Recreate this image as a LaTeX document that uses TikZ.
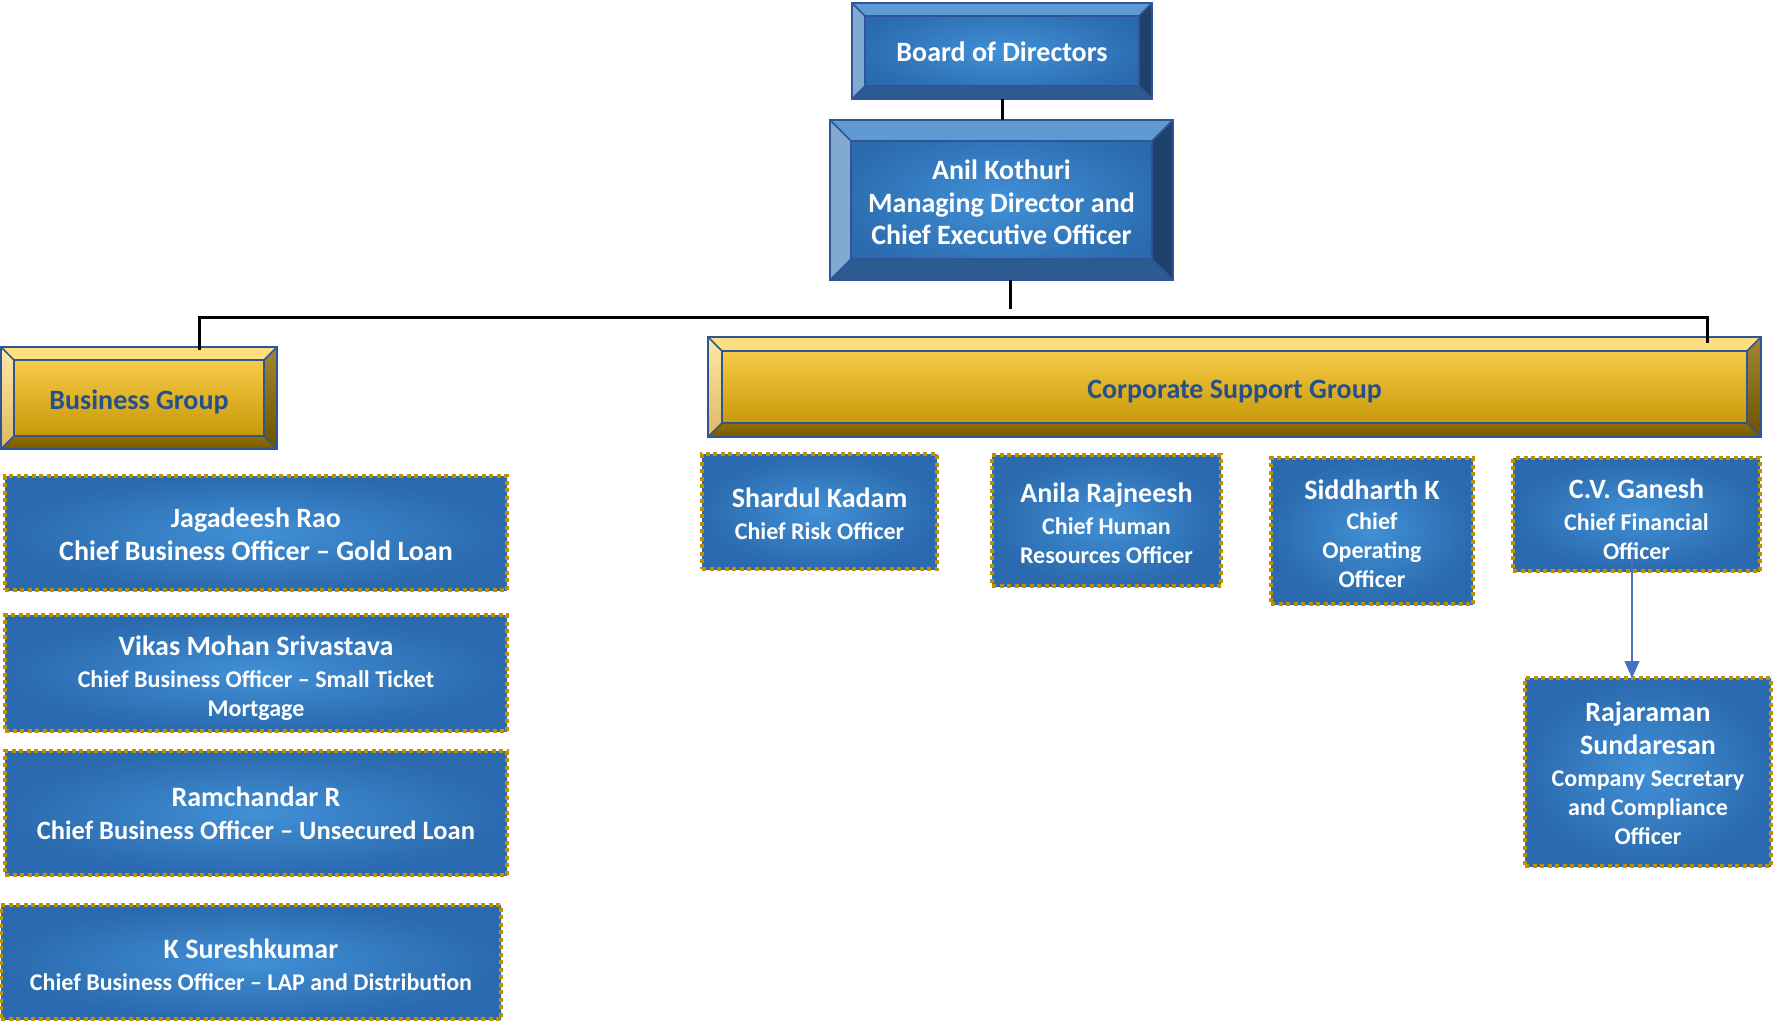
\documentclass[tikz,border=0pt]{standalone}
\usepackage{fontspec}
\setmainfont{Carlito}
\usetikzlibrary{arrows.meta}
\definecolor{blin}{HTML}{4190D6}
\definecolor{blout}{HTML}{2B6AAE}
\definecolor{dashgold}{HTML}{BF9000}
\definecolor{outl}{HTML}{2F5597}
\definecolor{bbtop}{HTML}{5F9AD3}
\definecolor{bbleft}{HTML}{82A9D1}
\definecolor{bbright}{HTML}{1E426C}
\definecolor{bbbot}{HTML}{2B5B91}
\definecolor{gtop}{HTML}{FFD450}
\definecolor{gmid}{HTML}{FFC000}
\definecolor{gbot}{HTML}{BE8F00}
\definecolor{gbtop}{HTML}{FFDE7E}
\definecolor{gbleftA}{HTML}{FFE8A6}
\definecolor{gbleftB}{HTML}{DDB960}
\definecolor{gbrightA}{HTML}{A48630}
\definecolor{gbrightB}{HTML}{6C5300}
\definecolor{gbbotA}{HTML}{937000}
\definecolor{gbbotB}{HTML}{765A00}
\definecolor{gtext}{HTML}{25508A}
\definecolor{arrowblue}{HTML}{4472C4}
\newcommand\nmf{\fontsize{28}{33}\selectfont}
\newcommand\lift[1]{\rule{0pt}{#1pt}}
\newcommand\bevelfaces[6]{%
  \path[#3] (#1.north west) -- (#1.north east) -- ([shift={(-#2,#2)}]#1.north east) -- ([shift={(#2,#2)}]#1.north west) -- cycle;
  \path[#4] (#1.north west) -- ([shift={(#2,#2)}]#1.north west) -- ([shift={(#2,-#2)}]#1.south west) -- (#1.south west) -- cycle;
  \path[#5] (#1.north east) -- ([shift={(-#2,#2)}]#1.north east) -- ([shift={(-#2,-#2)}]#1.south east) -- (#1.south east) -- cycle;
  \path[#6] (#1.south west) -- ([shift={(#2,-#2)}]#1.south west) -- ([shift={(-#2,-#2)}]#1.south east) -- (#1.south east) -- cycle;
  \draw[bevline] (#1.north west) rectangle (#1.south east);
  \draw[bevline] ([shift={(#2,#2)}]#1.north west) rectangle ([shift={(-#2,-#2)}]#1.south east);
  \draw[bevline] (#1.north west) -- ([shift={(#2,#2)}]#1.north west);
  \draw[bevline] (#1.north east) -- ([shift={(-#2,#2)}]#1.north east);
  \draw[bevline] (#1.south west) -- ([shift={(#2,-#2)}]#1.south west);
  \draw[bevline] (#1.south east) -- ([shift={(-#2,-#2)}]#1.south east);
}
\begin{document}
\begin{tikzpicture}[x=1pt,y=-1pt,
  base/.style={inner sep=0pt, outer sep=0pt, align=center,
    execute at begin node={\leftskip=0pt plus 1fil\rightskip=0pt plus 1fil\parfillskip=0pt\spaceskip=0pt\xspaceskip=0pt}},
  bluebev/.style={base, inner color=blin, outer color=blout, text=white},
  goldbev/.style={base, top color=gtop, middle color=gmid, bottom color=gbot, text=gtext},
  bluedash/.style={base, inner color=blin, outer color=blout, text=white, draw=dashgold, line width=4.5pt, dash pattern=on 4pt off 3.5pt},
  bigf/.style={font=\bfseries\fontsize{28}{33}\selectfont},
  subf/.style={font=\bfseries\fontsize{24}{29}\selectfont},
  bevline/.style={draw=outl, line width=1.6pt},
  conn/.style={line width=3pt, draw=black},
  arrowc/.style={draw=arrowblue, line width=1.5pt, -{Triangle[width=15pt,length=17pt]}},
]
\useasboundingbox (0,0) rectangle (1773,1021);

% top boxes
\node[bluebev, bigf, text width=300, minimum height=96] (board) at (1002,51) {\lift{22}Board of Directors};
\node[bluebev, font=\bfseries\fontsize{28}{32.5}\selectfont, text width=343, minimum height=160] (ceo) at (1001.5,200) {\lift{25}Anil Kothuri\\Managing Director and\\Chief Executive Officer};
\bevelfaces{board}{13}{fill=bbtop}{fill=bbleft}{fill=bbright}{fill=bbbot}
\bevelfaces{ceo}{21}{fill=bbtop}{fill=bbleft}{fill=bbright}{fill=bbbot}

% group boxes
\node[goldbev, bigf, text width=276, minimum height=102] (bg) at (139,398) {\lift{27}Business Group};
\node[goldbev, bigf, text width=1053, minimum height=100] (csg) at (1234.5,387) {\lift{27}Corporate Support Group};
\bevelfaces{bg}{13}{fill=gbtop}{top color=gbleftA,bottom color=gbleftB}{top color=gbrightA,bottom color=gbrightB}{top color=gbbotA,bottom color=gbbotB}
\bevelfaces{csg}{14}{fill=gbtop}{top color=gbleftA,bottom color=gbleftB}{top color=gbrightA,bottom color=gbrightB}{top color=gbbotA,bottom color=gbbotB}

% business group members
\node[bluedash, bigf, text width=502, minimum height=114] (jag) at (256,533) {\lift{22}Jagadeesh Rao\\Chief Business Officer – Gold Loan};
\node[bluedash, subf, text width=502, minimum height=116] (vik) at (256,673) {{\nmf\lift{31}Vikas Mohan Srivastava}\\[3pt]Chief Business Officer – Small Ticket\\Mortgage};
\node[bluedash, bigf, text width=502, minimum height=124] (ram) at (256,813) {Ramchandar R\\{\fontsize{26.5}{33}\selectfont Chief Business Officer – Unsecured Loan}};
\node[bluedash, subf, text width=500, minimum height=114] (ksu) at (251,962) {{\nmf\lift{24.5}K Sureshkumar}\\[3pt]Chief Business Officer – LAP and Distribution};

% corporate support members
\node[bluedash, subf, text width=235, minimum height=115] (sha) at (819.5,511.5) {{\nmf\lift{24.5}Shardul Kadam}\\[3pt]Chief Risk Officer};
\node[bluedash, subf, text width=229, minimum height=131] (ani) at (1106.5,520.5) {{\nmf\lift{24.5}Anila Rajneesh}\\[3pt]Chief Human\\Resources Officer};
\node[bluedash, subf, text width=202, minimum height=146] (sid) at (1372,531) {{\nmf\lift{26}Siddharth K}\\[1pt]Chief\\Operating\\Officer};
\node[bluedash, subf, text width=247, minimum height=113] (cvg) at (1636.5,514.5) {{\nmf\lift{30}C.V. Ganesh}\\[3pt]Chief Financial\\Officer};
\node[bluedash, subf, text width=246, minimum height=188] (raj) at (1648,772) {{\nmf\lift{22}Rajaraman}\\[4pt]{\nmf Sundaresan}\\[3pt]Company Secretary\\and Compliance\\Officer};

% connectors
\coordinate (jl) at (199,317);
\coordinate (jr) at (1707,317);
\draw[conn] (board.south) -- (board.south |- ceo.north);
\draw[conn] ([xshift=9pt]ceo.south) -- ++(0,29);
\draw[conn] ([yshift=-3pt]jl |- bg.north) -- (jl) -- (jr) -- ([yshift=-6pt]jr |- csg.north);
\draw[arrowc] ([xshift=-4.5pt,yshift=18pt]cvg.south) -- ([xshift=-16pt]raj.north);
\end{tikzpicture}
\end{document}
